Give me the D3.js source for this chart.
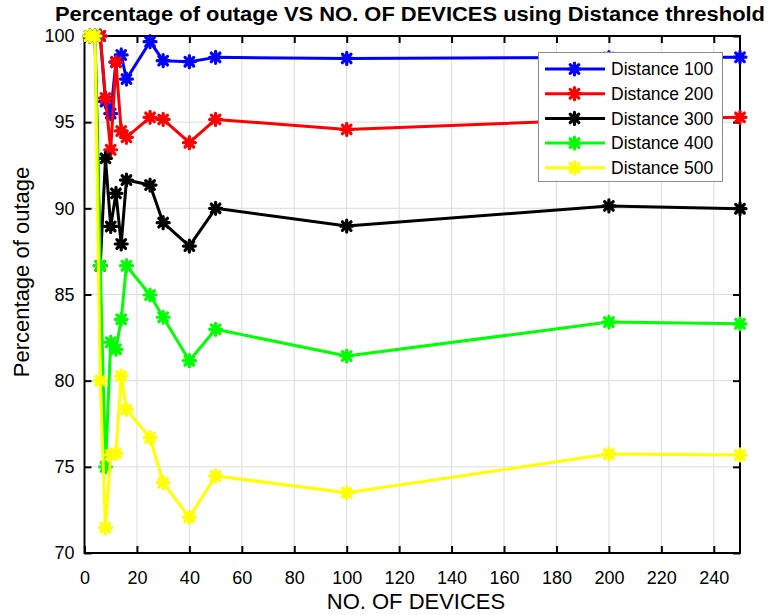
<!DOCTYPE html>
<html>
<head>
<meta charset="utf-8">
<script src="https://cdn.jsdelivr.net/npm/d3@7"></script>
<style>
  html, body { margin: 0; padding: 0; background: #fff; }
  svg { display: block; }
  text { font-family: "Liberation Sans", Arial, Helvetica, sans-serif; }
</style>
</head>
<body>
<svg id="chart" width="773" height="615"></svg>
<script>
// ---------- data ----------
const devices = [2, 4, 6, 8, 10, 12, 14, 16, 25, 30, 40, 50, 100, 200, 250];
const dist100 = [100, 100, 100, 96.2, 95.5, 98.5, 98.9, 97.5, 99.67, 98.57, 98.51, 98.76, 98.7, 98.75, 98.77];
const dist200 = [100, 100, 100, 96.4, 93.4, 98.47, 94.49, 94.12, 95.28, 95.16, 93.81, 95.16, 94.58, 95.15, 95.28];
const dist300 = [100, 100, 86.67, 92.9, 88.95, 90.87, 87.93, 91.64, 91.35, 89.17, 87.81, 90.0, 88.97, 90.14, 89.98];
const dist400 = [100, 100, 86.67, 75.0, 82.23, 81.82, 83.56, 86.67, 84.97, 83.68, 81.16, 82.98, 81.43, 83.4, 83.3];
const dist500 = [100, 100, 80.0, 71.47, 75.69, 75.78, 80.27, 78.33, 76.69, 74.08, 72.07, 74.47, 73.5, 75.74, 75.69];
const seriesNames = ["Distance 100", "Distance 200", "Distance 300", "Distance 400", "Distance 500"];
const seriesColors = ["#0000ff", "#ff0000", "#000000", "#00ff00", "#ffff00"];
const xTicks = [0, 20, 40, 60, 80, 100, 120, 140, 160, 180, 200, 220, 240];
const yTicks = [70, 75, 80, 85, 90, 95, 100];
const titleText = "Percentage of outage VS NO. OF DEVICES using Distance threshold";
const xLabel = "NO. OF DEVICES";
const yLabel = "Percentage of outage";

const allSeries = [dist100, dist200, dist300, dist400, dist500];

// ---------- layout ----------
const svg = d3.select("#chart");
const L = 84.5, R = 740, T = 36, B = 553;
const x = d3.scaleLinear().domain([0, 250]).range([L, R]);
const y = d3.scaleLinear().domain([70, 100]).range([B, T]);

svg.append("rect").attr("width", 773).attr("height", 615).attr("fill", "#fff");

// grid
const grid = svg.append("g").attr("stroke", "#dcdcdc").attr("stroke-width", 1);
xTicks.forEach(t => grid.append("line").attr("x1", x(t)).attr("x2", x(t)).attr("y1", T).attr("y2", B));
yTicks.forEach(t => grid.append("line").attr("x1", L).attr("x2", R).attr("y1", y(t)).attr("y2", y(t)));

// axes with inward ticks
const tickLen = 7;
const axB = svg.append("g").attr("transform", `translate(0,${B})`)
  .call(d3.axisBottom(x).tickValues(xTicks).tickSizeInner(-tickLen).tickSizeOuter(0).tickPadding(18));
const axT = svg.append("g").attr("transform", `translate(0,${T})`)
  .call(d3.axisTop(x).tickValues(xTicks).tickSizeInner(-tickLen).tickSizeOuter(0).tickFormat(""));
const axL = svg.append("g").attr("transform", `translate(${L},0)`)
  .call(d3.axisLeft(y).tickValues(yTicks).tickSizeInner(-tickLen).tickSizeOuter(0).tickPadding(10));
const axR = svg.append("g").attr("transform", `translate(${R},0)`)
  .call(d3.axisRight(y).tickValues(yTicks).tickSizeInner(-tickLen).tickSizeOuter(0).tickFormat(""));
[axB, axT, axL, axR].forEach(a => {
  a.select(".domain").remove();
  a.selectAll(".tick line").attr("stroke", "#000").attr("stroke-width", 2);
  a.selectAll("text").attr("font-size", 18).attr("fill", "#000")
    .style("font-family", '"Liberation Sans", Arial, sans-serif');
});
// frame
svg.append("rect").attr("x", L).attr("y", T).attr("width", R - L).attr("height", B - T)
  .attr("fill", "none").attr("stroke", "#000").attr("stroke-width", 2);

// series
const line = d3.line().x((d, i) => x(devices[i])).y(d => y(d));
const star = (r) => {
  const d = r * 0.72;
  return `M${-r},0H${r}M0,${-r}V${r}M${-d},${-d}L${d},${d}M${-d},${d}L${d},${-d}`;
};
allSeries.forEach((vals, si) => {
  const g = svg.append("g");
  g.append("path").datum(vals).attr("d", line).attr("fill", "none")
    .attr("stroke", seriesColors[si]).attr("stroke-width", 3).attr("stroke-linejoin", "round");
  g.selectAll("path.m").data(vals).enter().append("path").attr("class", "m")
    .attr("transform", (d, i) => `translate(${x(devices[i])},${y(d)})`)
    .attr("d", star(6)).attr("stroke", seriesColors[si]).attr("stroke-width", 3.2)
    .attr("stroke-linecap", "round").attr("fill", "none");
});

// legend
const lg = svg.append("g");
lg.append("rect").attr("x", 538.5).attr("y", 52.5).attr("width", 184).attr("height", 129)
  .attr("fill", "#fff").attr("stroke", "#8c8c8c").attr("stroke-width", 1);
seriesNames.forEach((name, i) => {
  const ly = 69 + i * 24.7;
  lg.append("line").attr("x1", 545).attr("x2", 605).attr("y1", ly).attr("y2", ly)
    .attr("stroke", seriesColors[i]).attr("stroke-width", 3);
  lg.append("path").attr("transform", `translate(574.5,${ly})`).attr("d", star(6))
    .attr("stroke", seriesColors[i]).attr("stroke-width", 3.2).attr("stroke-linecap", "round");
  lg.append("text").attr("x", 611).attr("y", ly).attr("dy", "0.36em")
    .attr("font-size", 17.5).attr("fill", "#000").text(name);
});

// title & labels
svg.append("text").attr("x", 410).attr("y", 21).attr("text-anchor", "middle")
  .attr("font-size", 20).attr("font-weight", "bold").attr("fill", "#000")
  .attr("textLength", 710).attr("lengthAdjust", "spacingAndGlyphs").text(titleText);
svg.append("text").attr("x", 416).attr("y", 609).attr("text-anchor", "middle")
  .attr("font-size", 22).attr("fill", "#000").text(xLabel);
svg.append("text").attr("transform", `translate(29,272) rotate(-90)`)
  .attr("text-anchor", "middle").attr("font-size", 22).attr("fill", "#000").text(yLabel);
</script>
</body>
</html>
